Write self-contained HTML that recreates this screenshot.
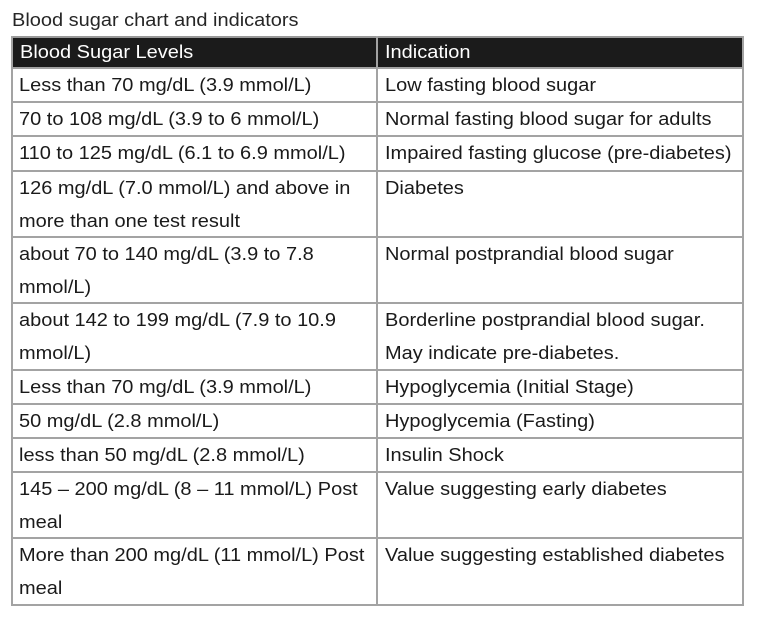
<!DOCTYPE html>
<html>
<head>
<meta charset="utf-8">
<style>
  html,body{margin:0;padding:0;background:#fff;}
  body{width:768px;height:629px;position:relative;overflow:hidden;font-family:"Liberation Sans",Arial,sans-serif;}
  .t{position:absolute;font-size:18px;line-height:33px;color:#1a1a1a;white-space:nowrap;transform:scaleX(1.11);transform-origin:0 0;}
  .h{position:absolute;left:12px;width:732px;height:2px;background:#a3a3a3;}
  .v{position:absolute;width:2px;background:#a3a3a3;}
</style>
</head>
<body>
<div class="t" style="left:12px;top:4px;color:#262626;">Blood sugar chart and indicators</div>

<div style="position:absolute;left:12px;top:37px;width:732px;height:31px;background:#1b1b1b;"></div>

<!-- horizontal lines -->
<div class="h" style="top:36px;background:#999;"></div>
<div class="h" style="top:67px;"></div>
<div class="h" style="top:101px;"></div>
<div class="h" style="top:135px;"></div>
<div class="h" style="top:170px;"></div>
<div class="h" style="top:236px;"></div>
<div class="h" style="top:302px;"></div>
<div class="h" style="top:369px;"></div>
<div class="h" style="top:403px;"></div>
<div class="h" style="top:437px;"></div>
<div class="h" style="top:471px;"></div>
<div class="h" style="top:537px;"></div>
<div class="h" style="top:604px;"></div>

<!-- vertical lines -->
<div class="v" style="left:11px;top:36px;height:570px;"></div>
<div class="v" style="left:376px;top:36px;height:570px;"></div>
<div class="v" style="left:742px;top:36px;height:570px;"></div>

<!-- header text -->
<div class="t" style="left:20px;top:36px;color:#fff;">Blood Sugar Levels</div>
<div class="t" style="left:385px;top:36px;color:#fff;">Indication</div>

<!-- rows -->
<div class="t" style="left:19px;top:69px;">Less than 70 mg/dL (3.9 mmol/L)</div>
<div class="t" style="left:385px;top:69px;">Low fasting blood sugar</div>

<div class="t" style="left:19px;top:103px;">70 to 108 mg/dL (3.9 to 6 mmol/L)</div>
<div class="t" style="left:385px;top:103px;">Normal fasting blood sugar for adults</div>

<div class="t" style="left:19px;top:137px;">110 to 125 mg/dL (6.1 to 6.9 mmol/L)</div>
<div class="t" style="left:385px;top:137px;">Impaired fasting glucose (pre-diabetes)</div>

<div class="t" style="left:19px;top:172px;">126 mg/dL (7.0 mmol/L) and above in<br>more than one test result</div>
<div class="t" style="left:385px;top:172px;">Diabetes</div>

<div class="t" style="left:19px;top:238px;">about 70 to 140 mg/dL (3.9 to 7.8<br>mmol/L)</div>
<div class="t" style="left:385px;top:238px;">Normal postprandial blood sugar</div>

<div class="t" style="left:19px;top:304px;">about 142 to 199 mg/dL (7.9 to 10.9<br>mmol/L)</div>
<div class="t" style="left:385px;top:304px;">Borderline postprandial blood sugar.<br>May indicate pre-diabetes.</div>

<div class="t" style="left:19px;top:371px;">Less than 70 mg/dL (3.9 mmol/L)</div>
<div class="t" style="left:385px;top:371px;">Hypoglycemia (Initial Stage)</div>

<div class="t" style="left:19px;top:405px;">50 mg/dL (2.8 mmol/L)</div>
<div class="t" style="left:385px;top:405px;">Hypoglycemia (Fasting)</div>

<div class="t" style="left:19px;top:439px;">less than 50 mg/dL (2.8 mmol/L)</div>
<div class="t" style="left:385px;top:439px;">Insulin Shock</div>

<div class="t" style="left:19px;top:473px;">145 – 200 mg/dL (8 – 11 mmol/L) Post<br>meal</div>
<div class="t" style="left:385px;top:473px;">Value suggesting early diabetes</div>

<div class="t" style="left:19px;top:539px;">More than 200 mg/dL (11 mmol/L) Post<br>meal</div>
<div class="t" style="left:385px;top:539px;">Value suggesting established diabetes</div>
</body>
</html>
